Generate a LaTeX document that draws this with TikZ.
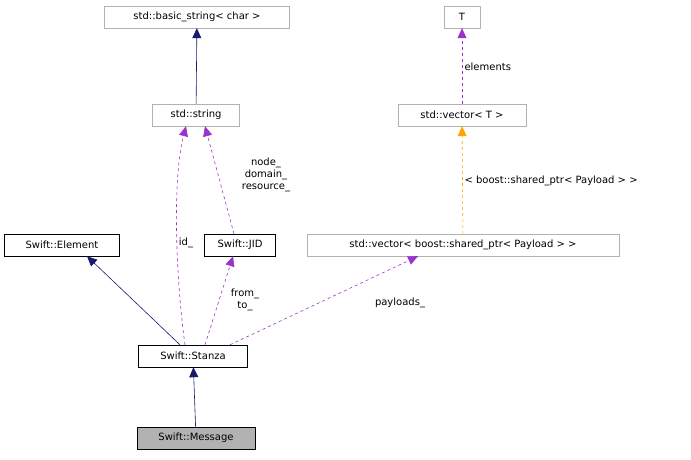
\documentclass[tikz,border=0pt]{standalone}
\usepackage{fontspec}
\setmainfont{DejaVu Sans}
\usetikzlibrary{arrows.meta}

\definecolor{navyedge}{HTML}{191970}
\definecolor{useedge}{HTML}{9A32CD}
\definecolor{tpledge}{HTML}{FFA500}

\tikzset{
  cls/.style={draw=black, rectangle, minimum height=22pt, inner sep=2pt, font=\fontsize{10}{12}\selectfont},
  ext/.style={cls, draw=gray!60},
  inh/.style={draw=navyedge, semithick, -{Triangle[length=10pt,width=9pt]}},
  use/.style={draw=useedge, semithick, dashed, -{Triangle[length=10pt,width=9pt]}},
  tpl/.style={draw=tpledge, semithick, dashed, -{Triangle[length=10pt,width=9pt]}},
  lbl/.style={font=\fontsize{10}{12}\selectfont, align=center}
}

\begin{document}
\begin{tikzpicture}[x=1pt, y=-1pt]
  \useasboundingbox (0,0) rectangle (691,459);

  \node[ext, minimum width=185pt] (basic) at (197,17) {std::basic\_string< char >};
  \node[ext, minimum width=36pt] (T) at (462,17) {T};
  \node[ext, minimum width=87pt] (str) at (196,115) {std::string};
  \node[ext, minimum width=128pt] (vecT) at (462,115) {std::vector< T >};
  \node[cls, minimum width=115pt] (elem) at (62,245) {Swift::Element};
  \node[cls, minimum width=71pt] (jid) at (240,245) {Swift::JID};
  \node[ext, minimum width=312pt] (vecP) at (463,245) {std::vector< boost::shared\_ptr< Payload > >};
  \node[cls, minimum width=109pt] (stanza) at (193,356) {Swift::Stanza};
  \node[cls, minimum width=118pt, fill=gray!60] (msg) at (196,438) {Swift::Message};

  % inheritance
  \draw[inh] (str) -- (basic);
  \draw[inh] (stanza.north -| 180,0) -- (elem.south -| 87,0);
  \draw[inh] (msg) -- (stanza);

  % usage
  \draw[use] (stanza.north -| 185,0) .. controls (176,280) and (172,180) .. (str.south -| 186,0);
  \draw[use] (jid.north -| 234,0) -- (str.south -| 205,0);
  \draw[use] (stanza.north -| 205,0) -- (jid.south -| 233,0);
  \draw[use] (stanza.north -| 230,0) -- (vecP.south -| 418,0);
  \draw[use] (vecT) -- (T);
  \draw[tpl] (vecP) -- (vecT);

  \node[lbl] at (186,243) {id\_};
  \node[lbl] at (266,175) {node\_\\domain\_\\resource\_};
  \node[lbl] at (245,300) {from\_\\to\_};
  \node[lbl] at (400,303) {payloads\_};
  \node[lbl, anchor=west] at (461,67) {elements};
  \node[lbl, anchor=west] at (461,181) {< boost::shared\_ptr< Payload > >};
\end{tikzpicture}
\end{document}
